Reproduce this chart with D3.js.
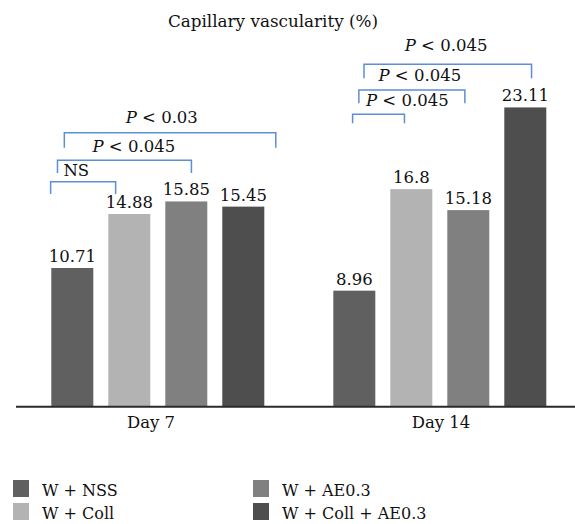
<!DOCTYPE html>
<html><head><meta charset="utf-8">
<script src="https://cdn.jsdelivr.net/npm/d3@7"></script>
<style>
html,body{margin:0;padding:0;background:#fff;}
svg{display:block;}
</style></head>
<body><svg id="chart" width="575" height="524"></svg>
<script>
// ---- data ----
const title = "Capillary vascularity (%)";
const groups = ["Day 7", "Day 14"];
const series = ["W + NSS", "W + Coll", "W + AE0.3", "W + Coll + AE0.3"];
const day7Values = [10.71, 14.88, 15.85, 15.45];
const day14Values = [8.96, 16.8, 15.18, 23.11];
const valueLabels = [["10.71", "14.88", "15.85", "15.45"], ["8.96", "16.8", "15.18", "23.11"]];
const colors = ["#606060", "#b3b3b3", "#808080", "#4e4e4e"];
// comparison brackets: group, from/to in bar-slot units, top & foot levels in value units, label anchor
const bracketGroup = ["Day 7", "Day 7", "Day 7", "Day 14", "Day 14", "Day 14"];
const bracketFrom  = [-0.38, -0.26, -0.14, -0.03, 0.08, 0.17];
const bracketTo    = [0.76, 2.09, 3.57, 0.88, 1.94, 3.11];
const bracketTop   = [17.37, 19.03, 21.16, 22.58, 24.46, 26.44];
const bracketFoot  = [16.42, 18.05, 20.0, 21.88, 23.43, 25.36];
const bracketP     = ["", "P", "P", "P", "P", "P"];
const bracketText  = ["NS", " < 0.045", " < 0.03", " < 0.045", " < 0.045", " < 0.045"];
const bracketLabelX = [0.07, 1.08, 1.57, 0.93, 1.15, 1.61];
const bracketLabelY = [17.81, 19.69, 21.93, 23.22, 25.14, 27.47];

// ---- chart ----
const FONT = "DejaVu Serif";
const FS = 16.5;
const svg = d3.select("#chart").style("font-family", FONT);
const baseY = 406.7;
const y = d3.scaleLinear().domain([0, 30]).range([baseY, baseY - 12.95 * 30]);
const x0 = d3.scaleBand().domain(groups).range([16, 580]);
const x1 = d3.scaleBand().domain(series).range([35.3, 248.3]).paddingInner(0.263).paddingOuter(0);
const slot = d3.scaleLinear().domain([0, 1]).range([x1(series[0]) + x1.bandwidth() / 2, x1(series[1]) + x1.bandwidth() / 2]);

const vals = [day7Values, day14Values];
const rows = [];
groups.forEach((g, gi) => series.forEach((s, si) => rows.push({g, gi, s, si, v: vals[gi][si], lab: valueLabels[gi][si]})));

// title
svg.append("text").attr("x", 273).attr("y", 27).attr("text-anchor", "middle")
  .style("font-family", FONT).attr("font-size", 16.8).attr("fill", "#111").text(title);

// bars
const gBars = svg.append("g");
gBars.selectAll("rect").data(rows).join("rect")
  .attr("x", d => x0(d.g) + x1(d.s))
  .attr("width", x1.bandwidth())
  .attr("y", d => y(d.v))
  .attr("height", d => y(0) - y(d.v))
  .attr("fill", d => colors[d.si]);

gBars.selectAll("text").data(rows).join("text")
  .attr("x", d => x0(d.g) + x1(d.s) + x1.bandwidth() / 2)
  .attr("y", d => y(d.v) - 6)
  .attr("text-anchor", "middle").style("font-family", FONT).attr("font-size", FS).attr("fill", "#111")
  .text(d => d.lab);

// axis
const xAxis = d3.axisBottom(x0).tickSize(0).tickPadding(10);
const ax = svg.append("g").attr("transform", `translate(0,${baseY})`).call(xAxis);
ax.attr("font-family", null);
ax.select(".domain").remove();
ax.append("line").attr("x1", 16).attr("x2", 575).attr("y1", 0).attr("y2", 0)
  .attr("stroke", "#2a2a2a").attr("stroke-width", 2);
ax.selectAll(".tick text").style("font-family", FONT).attr("font-size", FS).attr("fill", "#111")
  .attr("dx", (d, i) => i === 0 ? -6 : 2);

// brackets
const bracketColor = "#5b8fd6";
const gBr = svg.append("g");
bracketGroup.forEach((g, i) => {
  const off = x0(g);
  const xa = off + slot(bracketFrom[i]), xb = off + slot(bracketTo[i]);
  const yt = y(bracketTop[i]), yf = y(bracketFoot[i]);
  gBr.append("path")
    .attr("d", `M${xa},${yf}V${yt}H${xb}V${yf}`)
    .attr("fill", "none").attr("stroke", bracketColor).attr("stroke-width", 1.5);
  const t = gBr.append("text")
    .attr("x", off + slot(bracketLabelX[i])).attr("y", y(bracketLabelY[i]))
    .attr("text-anchor", "middle").style("font-family", FONT).attr("font-size", FS).attr("fill", "#111");
  if (bracketP[i]) t.append("tspan").attr("font-style", "italic").text(bracketP[i]);
  t.append("tspan").text(bracketText[i]);
});

// legend
const legend = svg.append("g");
const legendPos = [[0, 0], [0, 1], [1, 0], [1, 1]];
series.forEach((s, i) => {
  const lx = legendPos[i][0] ? 253 : 13;
  const ly = legendPos[i][1] ? 503 : 480;
  legend.append("rect").attr("x", lx).attr("y", ly).attr("width", 16).attr("height", 17).attr("fill", colors[i]);
  legend.append("text").attr("x", lx + 29).attr("y", ly + 16).style("font-family", FONT)
    .attr("font-size", 16).attr("fill", "#111").text(s);
});
</script>
</body></html>
